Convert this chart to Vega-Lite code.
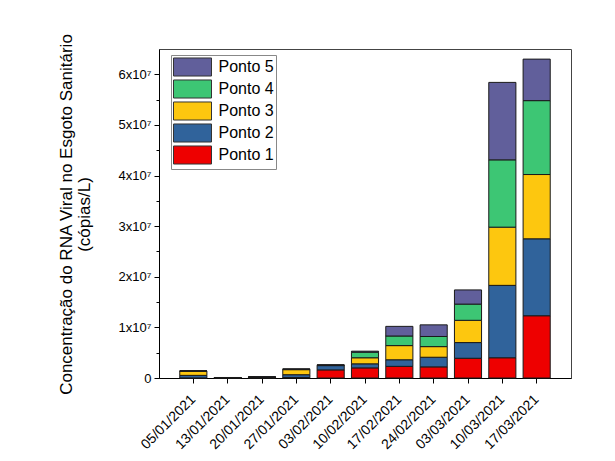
{
  "$schema": "https://vega.github.io/schema/vega-lite/v6.json",
  "width": 412,
  "height": 329,
  "autosize": {"type": "none"},
  "padding": {"left": 159, "top": 49, "right": 44, "bottom": 83},
  "background": "white",
  "data": {
    "values": [
      {"date": "05/01/2021", "ponto": "Ponto 1", "value": 20000},
      {"date": "05/01/2021", "ponto": "Ponto 2", "value": 500000},
      {"date": "05/01/2021", "ponto": "Ponto 3", "value": 850000},
      {"date": "05/01/2021", "ponto": "Ponto 4", "value": 20000},
      {"date": "05/01/2021", "ponto": "Ponto 5", "value": 10000},
      {"date": "13/01/2021", "ponto": "Ponto 1", "value": 20000},
      {"date": "13/01/2021", "ponto": "Ponto 2", "value": 30000},
      {"date": "13/01/2021", "ponto": "Ponto 3", "value": 30000},
      {"date": "13/01/2021", "ponto": "Ponto 4", "value": 10000},
      {"date": "13/01/2021", "ponto": "Ponto 5", "value": 10000},
      {"date": "20/01/2021", "ponto": "Ponto 1", "value": 50000},
      {"date": "20/01/2021", "ponto": "Ponto 2", "value": 100000},
      {"date": "20/01/2021", "ponto": "Ponto 3", "value": 50000},
      {"date": "20/01/2021", "ponto": "Ponto 4", "value": 20000},
      {"date": "20/01/2021", "ponto": "Ponto 5", "value": 10000},
      {"date": "27/01/2021", "ponto": "Ponto 1", "value": 100000},
      {"date": "27/01/2021", "ponto": "Ponto 2", "value": 550000},
      {"date": "27/01/2021", "ponto": "Ponto 3", "value": 1000000},
      {"date": "27/01/2021", "ponto": "Ponto 4", "value": 100000},
      {"date": "27/01/2021", "ponto": "Ponto 5", "value": 50000},
      {"date": "03/02/2021", "ponto": "Ponto 1", "value": 1600000},
      {"date": "03/02/2021", "ponto": "Ponto 2", "value": 850000},
      {"date": "03/02/2021", "ponto": "Ponto 3", "value": 50000},
      {"date": "03/02/2021", "ponto": "Ponto 4", "value": 50000},
      {"date": "03/02/2021", "ponto": "Ponto 5", "value": 50000},
      {"date": "10/02/2021", "ponto": "Ponto 1", "value": 2000000},
      {"date": "10/02/2021", "ponto": "Ponto 2", "value": 800000},
      {"date": "10/02/2021", "ponto": "Ponto 3", "value": 1200000},
      {"date": "10/02/2021", "ponto": "Ponto 4", "value": 1100000},
      {"date": "10/02/2021", "ponto": "Ponto 5", "value": 200000},
      {"date": "17/02/2021", "ponto": "Ponto 1", "value": 2300000},
      {"date": "17/02/2021", "ponto": "Ponto 2", "value": 1300000},
      {"date": "17/02/2021", "ponto": "Ponto 3", "value": 2800000},
      {"date": "17/02/2021", "ponto": "Ponto 4", "value": 1900000},
      {"date": "17/02/2021", "ponto": "Ponto 5", "value": 1900000},
      {"date": "24/02/2021", "ponto": "Ponto 1", "value": 2200000},
      {"date": "24/02/2021", "ponto": "Ponto 2", "value": 1900000},
      {"date": "24/02/2021", "ponto": "Ponto 3", "value": 2100000},
      {"date": "24/02/2021", "ponto": "Ponto 4", "value": 2000000},
      {"date": "24/02/2021", "ponto": "Ponto 5", "value": 2300000},
      {"date": "03/03/2021", "ponto": "Ponto 1", "value": 3900000},
      {"date": "03/03/2021", "ponto": "Ponto 2", "value": 3100000},
      {"date": "03/03/2021", "ponto": "Ponto 3", "value": 4400000},
      {"date": "03/03/2021", "ponto": "Ponto 4", "value": 3200000},
      {"date": "03/03/2021", "ponto": "Ponto 5", "value": 2800000},
      {"date": "10/03/2021", "ponto": "Ponto 1", "value": 4000000},
      {"date": "10/03/2021", "ponto": "Ponto 2", "value": 14300000},
      {"date": "10/03/2021", "ponto": "Ponto 3", "value": 11500000},
      {"date": "10/03/2021", "ponto": "Ponto 4", "value": 13300000},
      {"date": "10/03/2021", "ponto": "Ponto 5", "value": 15300000},
      {"date": "17/03/2021", "ponto": "Ponto 1", "value": 12300000},
      {"date": "17/03/2021", "ponto": "Ponto 2", "value": 15200000},
      {"date": "17/03/2021", "ponto": "Ponto 3", "value": 12700000},
      {"date": "17/03/2021", "ponto": "Ponto 4", "value": 14600000},
      {"date": "17/03/2021", "ponto": "Ponto 5", "value": 8200000}
    ]
  },
  "mark": {"type": "bar", "stroke": "#1a1a1a", "strokeWidth": 1},
  "encoding": {
    "x": {
      "field": "date",
      "type": "nominal",
      "sort": null,
      "scale": {"paddingInner": 0.21, "paddingOuter": 0.605},
      "axis": {
        "title": null,
        "labelAngle": -45,
        "labelAlign": "right",
        "labelBaseline": "middle",
        "labelPadding": 14,
        "labelFont": "Liberation Sans",
        "labelFontSize": 14,
        "labelColor": "#000",
        "tickSize": 5,
        "tickColor": "#000",
        "domainColor": "#000"
      }
    },
    "y": {
      "aggregate": "sum",
      "field": "value",
      "type": "quantitative",
      "stack": "zero",
      "scale": {"domain": [0, 65000000], "nice": false},
      "axis": {
        "title": ["Concentração do RNA Viral no Esgoto Sanitário", "(cópias/L)"],
        "titleFont": "Liberation Sans",
        "titleFontSize": 17,
        "titleFontWeight": "normal",
        "titleColor": "#000",
        "titleLineHeight": 18,
        "titleAngle": -90,
        "titleAlign": "center",
        "titleBaseline": "middle",
        "titleX": -93,
        "titleY": 165,
        "values": [0, 5000000, 10000000, 15000000, 20000000, 25000000, 30000000, 35000000, 40000000, 45000000, 50000000, 55000000, 60000000],
        "labelExpr": "datum.value % 10000000 === 0 ? (datum.value === 0 ? '0' : (datum.value / 10000000) + 'x10⁷') : ''",
        "labelFont": "Liberation Sans",
        "labelFontSize": 13,
        "labelColor": "#000",
        "labelPadding": 3,
        "tickSize": {"condition": {"test": "datum.value % 10000000 === 0", "value": 5}, "value": 3},
        "tickColor": "#000",
        "domainColor": "#000",
        "grid": false
      }
    },
    "color": {
      "field": "ponto",
      "type": "nominal",
      "scale": {
        "domain": ["Ponto 5", "Ponto 4", "Ponto 3", "Ponto 2", "Ponto 1"],
        "range": ["#615f9b", "#3dc674", "#fdc70f", "#30639b", "#ee0000"]
      },
      "legend": {
        "title": null,
        "orient": "none",
        "legendX": 12,
        "legendY": 6,
        "symbolType": "M-2,-0.95H2V0.95H-2Z",
        "symbolSize": 361,
        "symbolOffset": 9.5,
        "symbolStrokeColor": "#333",
        "symbolStrokeWidth": 1,
        "symbolOpacity": 1,
        "labelFont": "Liberation Sans",
        "labelFontSize": 16,
        "labelColor": "#000",
        "labelOffset": 16,
        "rowPadding": -3,
        "strokeColor": "#888",
        "fillColor": "white",
        "padding": 2
      }
    },
    "order": {"field": "ponto", "sort": "ascending"}
  },
  "config": {
    "view": {"stroke": "#444", "strokeWidth": 1}
  }
}
